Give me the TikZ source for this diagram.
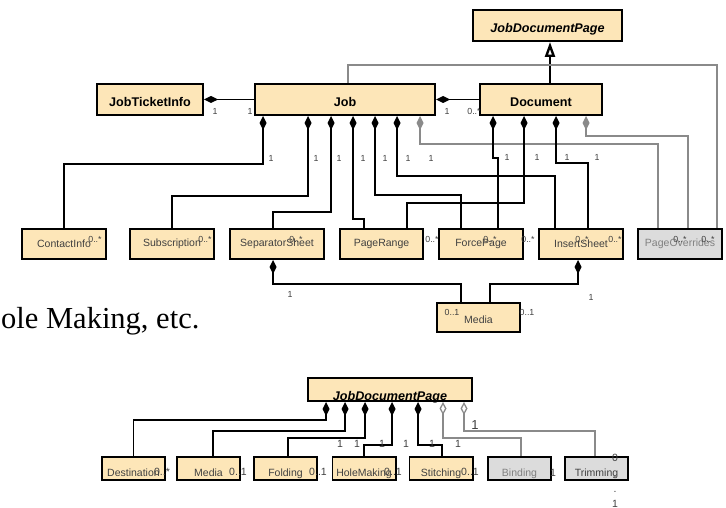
\documentclass[tikz,border=0pt]{standalone}
\usepackage{fontspec}
\setmainfont{Liberation Sans}
\newfontfamily\slidefont{Liberation Serif}
\usetikzlibrary{arrows.meta}
\definecolor{classfill}{RGB}{253,230,184}
\definecolor{greyfill}{RGB}{220,220,220}
\definecolor{greyline}{RGB}{138,138,138}
\definecolor{labeltext}{RGB}{64,64,64}
\tikzset{>=latex}
\tikzset{
  cls/.style={draw,line width=1.8pt,fill=classfill,inner sep=0pt,minimum height=31.2pt,text height=14pt,text depth=0pt,font=\fontsize{12.6}{14}\selectfont\bfseries},
  part/.style={draw,line width=1.6pt,fill=classfill,inner sep=0pt,minimum width=84.4pt,minimum height=30.4pt,text=labeltext,font=\fontsize{10.5}{12}\selectfont},
  small/.style={part,minimum width=63.4pt,minimum height=23.4pt,text height=16pt,text depth=0pt},
  grey/.style={fill=greyfill,text=gray},
  mult/.style={inner sep=0pt,text=labeltext,font=\fontsize{8.8}{10}\selectfont},
  bigmult/.style={mult,font=\fontsize{10.5}{15.3}\selectfont},
  comp/.style={line width=1.5pt,{Diamond[length=14pt,width=7pt]}-},
  aggr/.style={comp,greyline},
  share/.style={line width=1.5pt,greyline,{Diamond[open,length=13pt,width=7pt,line width=1.3pt]}-},
  gen/.style={line width=1.5pt,-{Triangle[open,length=15pt,width=10pt,line width=2.4pt]}}
}

\begin{document}
\begin{tikzpicture}[x=1pt,y=-1pt]
\useasboundingbox[fill=white] (0,0) rectangle (726,508);
\node[cls,minimum width=149.2pt,font=\fontsize{12.6}{14}\selectfont\bfseries\itshape] (JDP) at (547.5,25.5) {JobDocumentPage};
\node[cls,minimum width=106.2pt] (JTI) at (150,99.5) {JobTicketInfo};
\node[cls,minimum width=180.2pt] (Job) at (345,99.5) {Job};
\node[cls,minimum width=122.2pt] (Doc) at (541,99.5) {Document};
\node[part] (CI) at (64,244) {ContactInfo};
\node[part] (Sub) at (172,244) {Subscription};
\node[part,minimum width=94.4pt] (SS) at (277,244) {SeparatorSheet};
\node[part,minimum width=83.4pt] (PR) at (381.5,244) {PageRange};
\node[part] (FP) at (481,244) {ForcePage};
\node[part] (IS) at (581,244) {InsertSheet};
\node[part,grey] (PO) at (680,244) {PageOverrides};
\node[part,minimum width=83.4pt,minimum height=29.4pt,text height=12pt,text depth=0pt] (Med) at (478.5,317.5) {Media};
\draw[comp] (JTI.east) -- (Job.west);
\draw[comp] (Job.east) -- (Doc.west);
\draw[gen] (Doc.north -| 550,0) -- (JDP.south -| 550,0);
\draw[line width=1.5pt,greyline] (Job.north -| 348,0) |- (717,65) -- (PO.north -| 717,0);
\draw[comp] (Job.south -| 263,0) |- (CI.north |- 0,164) -- (CI.north);
\draw[comp] (Job.south -| 308,0) |- (Sub.north |- 0,196) -- (Sub.north);
\draw[comp] (Job.south -| 331,0) |- (273,212) -- (SS.north -| 273,0);
\draw[comp] (Job.south -| 353,0) |- (364,219) -- (PR.north -| 364,0);
\draw[comp] (Job.south -| 375,0) |- (461,195) -- (FP.north -| 461,0);
\draw[comp] (Job.south -| 397,0) |- (555,176) -- (IS.north -| 555,0);
\draw[aggr] (Job.south -| 420,0) |- (658,144) -- (PO.north -| 658,0);
\draw[comp] (Doc.south -| 493,0) |- (498,158) -- (FP.north -| 498,0);
\draw[comp] (Doc.south -| 524,0) |- (407,203) -- (PR.north -| 407,0);
\draw[comp] (Doc.south -| 556,0) |- (588,163) -- (IS.north -| 588,0);
\draw[aggr] (Doc.south -| 586,0) |- (688,136) -- (PO.north -| 688,0);
\draw[comp] (SS.south -| 273,0) |- (461,284) -- (Med.north -| 461,0);
\draw[comp] (IS.south -| 578,0) |- (490,284) -- (Med.north -| 490,0);
\node[mult] (m1) at (215,111) {1};
\node[mult] (m2) at (250,111) {1};
\node[mult] (m3) at (447,111) {1};
\node[mult] (m4) at (474,111) {0..*};
\foreach \x [count=\i] in {271,316,339,363,385,408,431}
  \node[mult] (j\i) at (\x,158) {1};
\foreach \x [count=\i] in {507,537,567,597}
  \node[mult] (d\i) at (\x,157) {1};
\foreach \x [count=\i] in {95,205,296,432,490,528,582,615,680,708}
  \node[mult] (n\i) at (\x,239) {0..*};
\node[mult] (s1) at (290,294) {1};
\node[mult] (s2) at (591,297) {1};
\node[mult] (u1) at (452,312) {0..1};
\node[mult] (u2) at (527,312) {0..1};
\node[anchor=base west,inner sep=0pt,font=\slidefont\fontsize{30.5}{32}\selectfont] (txt) at (1,328) {ole Making, etc.};
\node[cls,minimum width=164.2pt,minimum height=23.2pt,text height=22pt,font=\fontsize{12.6}{14}\selectfont\bfseries\itshape] (JDP2) at (390,389.5) {JobDocumentPage};
\node[small] (Dst) at (133.5,468.5) {Destination};
\node[small] (Med2) at (208.5,468.5) {Media};
\node[small] (Fold) at (285.5,468.5) {Folding};
\node[small] (Hole) at (364,468.5) {HoleMaking};
\node[small] (Sti) at (441,468.5) {Stitching};
\node[small,grey] (Bnd) at (519.5,468.5) {Binding};
\node[small,fill=greyfill] (Trm) at (596.5,468.5) {Trimming};
\draw[comp] (JDP2.south -| 326,0) |- (Dst.north |- 0,420) -- (Dst.north);
\draw[comp] (JDP2.south -| 345,0) |- (213,431) -- (Med2.north -| 213,0);
\draw[comp] (JDP2.south -| 365,0) |- (288,438) -- (Fold.north -| 288,0);
\draw[comp] (JDP2.south -| 392,0) |- (Hole.north |- 0,445) -- (Hole.north);
\draw[comp] (JDP2.south -| 418,0) |- (442,445) -- (Sti.north -| 442,0);
\draw[share] (JDP2.south -| 443,0) |- (521,438) -- (Bnd.north -| 521,0);
\draw[share] (JDP2.south -| 464,0) |- (595,431) -- (Trm.north -| 595,0);
\foreach \x [count=\i] in {340,357,382,406,432,458}
  \node[bigmult] (b\i) at (\x,444) {1};
\node[bigmult,font=\fontsize{13}{15}\selectfont] (b7) at (475,425) {1};
\node[bigmult] (e1) at (162,472) {0..*};
\foreach \x [count=\i from 2] in {238,318,393,470}
  \node[bigmult] (e\i) at (\x,472) {0..1};
\node[bigmult] (e6) at (553,473) {1};
\node[bigmult,align=center,anchor=south] (e7) at (615,508) {0\\.\\.\\1};
\end{tikzpicture}
\end{document}
